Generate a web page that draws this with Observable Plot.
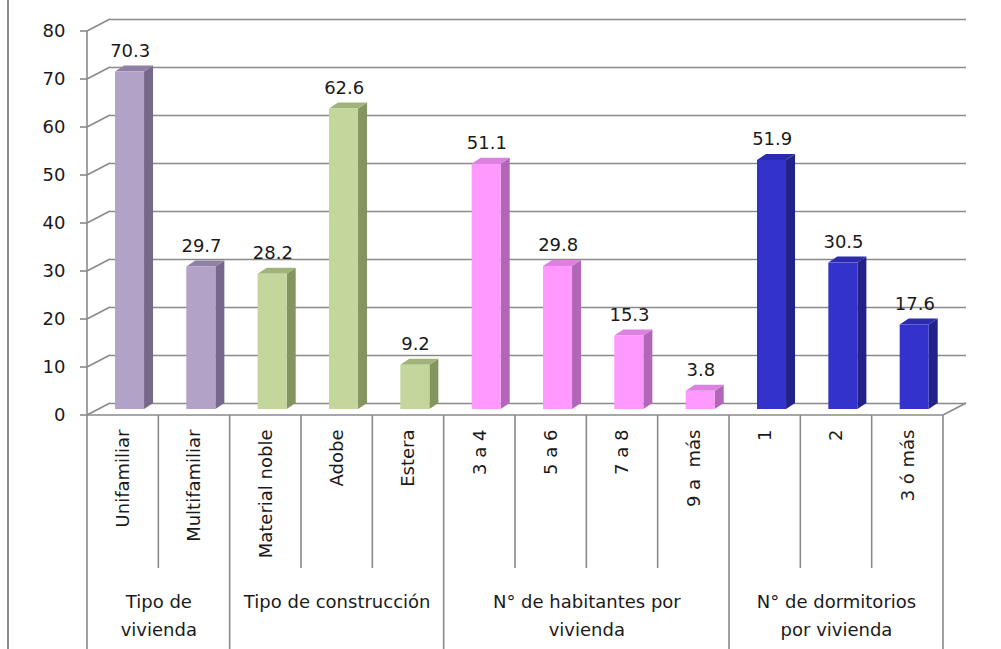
<!DOCTYPE html>
<html>
<head>
<meta charset="utf-8">
<script src="https://cdn.jsdelivr.net/npm/d3@7"></script>
<script src="https://cdn.jsdelivr.net/npm/@observablehq/plot@0.6"></script>
<style>
  html, body { margin: 0; padding: 0; background: #fff; }
  #chart { position: relative; width: 1001px; height: 649px; overflow: hidden; }
  #chart::before { content: ""; position: absolute; left: 7px; top: 0; bottom: 0; width: 2px; background: #8c8c8c; }
  #chart svg { display: block; }
</style>
</head>
<body>
<div id="chart"></div>
<script>
// Housing characteristics (%), grouped by topic
const categories = ["Unifamiliar", "Multifamiliar", "Material noble", "Adobe", "Estera",
  "3 a 4", "5 a 6", "7 a 8", "9 a  más", "1", "2", "3 ó más"];
const values = [70.3, 29.7, 28.2, 62.6, 9.2, 51.1, 29.8, 15.3, 3.8, 51.9, 30.5, 17.6];
const groupLabels = ["Tipo de\nvivienda", "Tipo de construcción", "N° de habitantes por\nvivienda", "N° de dormitorios\npor vivienda"];
const groupSizes = [2, 3, 4, 3];
const yTicks = [0, 10, 20, 30, 40, 50, 60, 70, 80];

// face colours per group: front, side, top
const frontColors = ["#b3a2c7", "#c3d69b", "#ff99ff", "#3333cc"];
const sideColors  = ["#76688a", "#85955f", "#b266b8", "#222288"];
const topColors   = ["#8f80a5", "#a0b47a", "#dd80e2", "#2b2bad"];

// build rows
const groupOf = [];
groupSizes.forEach((n, g) => { for (let k = 0; k < n; k++) groupOf.push(g); });
const rows = categories.map((c, i) => ({i, category: c, value: values[i], group: groupOf[i]}));
let start = 0;
const groups = groupSizes.map((n, g) => {
  const r = {label: groupLabels[g], center: start + (n - 1) / 2, end: start + n - 0.5};
  start += n;
  return r;
});

// perspective offsets (pixels)
const WALL_DX = 23, WALL_DY = -12;   // floor / back wall depth
const BAR_DX = 9, BAR_DY = -6;       // bar depth
const BAR_SHIFT = -6;                // bars stand mid-depth
const INSET_L = 28, INSET_R = 14.3;
const GRID = "#8a8a8a";
const FONT = 18;

// 3D structure: wall diagonals, floor edge, separators below, bar sides and tops
function depth(index, scales, channels, dims) {
  const {x, y} = scales;
  const g = d3.create("svg:g").attr("fill", "none").attr("stroke", GRID).attr("stroke-width", 1.6);
  const xa = x(-0.5), xb = x(11.5), y0 = y(0);
  const line = (x1, y1, x2, y2) => g.append("line").attr("x1", x1).attr("y1", y1).attr("x2", x2).attr("y2", y2);
  for (const t of yTicks) {
    line(xa, y(t), xa + WALL_DX, y(t) + WALL_DY);
    line(xa - 7, y(t), xa, y(t));
  }
  line(xb, y0, xb + WALL_DX, y0 + WALL_DY);
  line(xa, y0, xb, y0);
  line(xa, y(80), xa, dims.height);
  line(xb, y0, xb, dims.height);
  const bounds = new Set(groups.map(d => d.end));
  for (let i = 0; i < categories.length - 1; i++) {
    const b = i + 0.5;
    line(x(b), y0, x(b), bounds.has(b) ? dims.height : y0 + 153);
  }
  const bars = g.append("g").attr("stroke", "none");
  for (const d of rows) {
    const L = x(d.i - 0.5) + INSET_L, R = x(d.i + 0.5) - INSET_R;
    const T = y(d.value) + BAR_SHIFT, B = y(0) + BAR_SHIFT;
    bars.append("path")
      .attr("fill", sideColors[d.group])
      .attr("d", `M${R},${B}L${R},${T}L${R + BAR_DX},${T + BAR_DY}L${R + BAR_DX},${B + BAR_DY}Z`);
    bars.append("path")
      .attr("fill", topColors[d.group])
      .attr("d", `M${L},${T}L${R},${T}L${R + BAR_DX},${T + BAR_DY}L${L + BAR_DX},${T + BAR_DY}Z`);
  }
  return g.node();
}

const chart = Plot.plot({
  width: 1001,
  height: 649,
  marginLeft: 87,
  marginRight: 58,
  marginTop: 31,
  marginBottom: 234,
  style: {fontFamily: "'DejaVu Sans', sans-serif", fontSize: FONT + "px", color: "#1a1a1a", background: "#fff"},
  x: {type: "linear", domain: [-0.5, 11.5]},
  y: {domain: [0, 80]},
  color: {type: "identity"},
  marks: [
    // back wall gridlines
    Plot.ruleY(yTicks, {stroke: GRID, strokeWidth: 1.6, dx: WALL_DX, dy: WALL_DY}),
    depth,
    // bar front faces
    Plot.rectY(rows, {x1: d => d.i - 0.5, x2: d => d.i + 0.5, y: "value", fill: d => frontColors[d.group],
      insetLeft: INSET_L, insetRight: INSET_R, dy: BAR_SHIFT}),
    Plot.axisY(yTicks, {tickSize: 0, tickPadding: 22, label: null, fontSize: FONT}),
    Plot.axisX(d3.range(categories.length), {tickFormat: i => categories[i], tickRotate: -90,
      tickSize: 0, tickPadding: 14, label: null, fontSize: FONT}),
    // value labels
    Plot.text(rows, {x: "i", y: "value", text: d => d.value.toFixed(1), dx: 7, dy: -27, fontSize: FONT}),
    // group labels
    Plot.text(groups, {x: "center", frameAnchor: "bottom", text: "label", lineAnchor: "top",
      dy: 173, lineHeight: 1.55, fontSize: FONT})
  ]
});

document.getElementById("chart").appendChild(chart);
</script>
</body>
</html>
